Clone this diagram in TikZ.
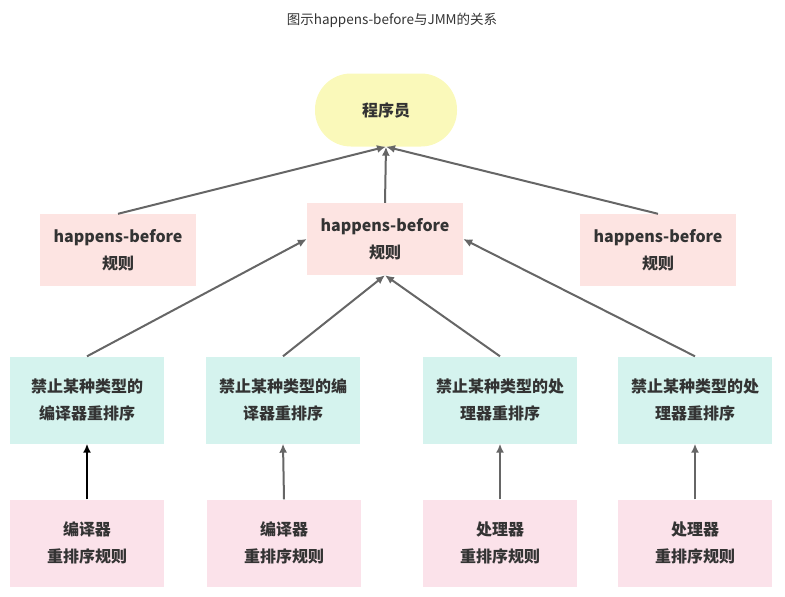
\documentclass[tikz,border=0pt]{standalone}
\usepackage{fontspec}
\setmainfont{Noto Sans CJK SC}
\usetikzlibrary{arrows.meta}
\definecolor{progyellow}{HTML}{FAF9BA}
\definecolor{hbpink}{HTML}{FDE4E2}
\definecolor{bangreen}{HTML}{D5F3EE}
\definecolor{reorderpink}{HTML}{FBE2EA}
\definecolor{textgray}{HTML}{333333}
\definecolor{arrowgray}{HTML}{666666}

\begin{document}
\begin{tikzpicture}[x=1pt, y=-1pt,
    font=\bfseries\fontsize{16}{27}\selectfont,
    box/.style={align=center, text=textgray, inner sep=0pt},
    rulebox/.style={box, fill=hbpink, minimum width=156pt, minimum height=72pt},
    banbox/.style={box, fill=bangreen, minimum width=154pt, minimum height=87pt},
    reorderbox/.style={box, fill=reorderpink, minimum width=154pt, minimum height=87pt},
    arr/.style={draw=arrowgray, line width=2pt, -{Latex[length=9pt,width=8pt]}}]
    \useasboundingbox (0,0) rectangle (785,597);
    \node[text=textgray, font=\fontsize{13.5}{15}\selectfont] (title) at (392,20) {图示happens-before与JMM的关系};
    % top
    \node[box, fill=progyellow, minimum width=142pt, minimum height=73pt, rounded corners=36pt] (prog) at (386,110) {程序员};
    \node[rulebox] (hbl) at (118,250) {happens-before\\规则};
    \node[rulebox] (hbm) at (385,239) {happens-before\\规则};
    \node[rulebox] (hbr) at (658,250) {happens-before\\规则};
    \draw[arr] (hbl.north) -- (prog.south);
    \draw[arr] (hbm.north) -- (prog.south);
    \draw[arr] (hbr.north) -- (prog.south);
    % middle
    \node[banbox] (ban1) at (87,400) {禁止某种类型的\\编译器重排序};
    \node[banbox] (ban2) at (283,400) {禁止某种类型的编\\译器重排序};
    \node[banbox] (ban3) at (500,400) {禁止某种类型的处\\理器重排序};
    \node[banbox] (ban4) at (695,400) {禁止某种类型的处\\理器重排序};
    \draw[arr] (ban1.north) -- (hbm.west);
    \draw[arr] (ban2.north) -- (hbm.south);
    \draw[arr] (ban3.north) -- (hbm.south);
    \draw[arr] (ban4.north) -- (hbm.east);
    % bottom
    \node[reorderbox] (re1) at (87,543) {编译器\\重排序规则};
    \node[reorderbox] (re2) at (284,543) {编译器\\重排序规则};
    \node[reorderbox] (re3) at (500,543) {处理器\\重排序规则};
    \node[reorderbox] (re4) at (695,543) {处理器\\重排序规则};
    \draw[arr, draw=black] (re1.north) -- (ban1.south);
    \draw[arr] (re2.north) -- (ban2.south);
    \draw[arr] (re3.north) -- (ban3.south);
    \draw[arr] (re4.north) -- (ban4.south);
\end{tikzpicture}
\end{document}
